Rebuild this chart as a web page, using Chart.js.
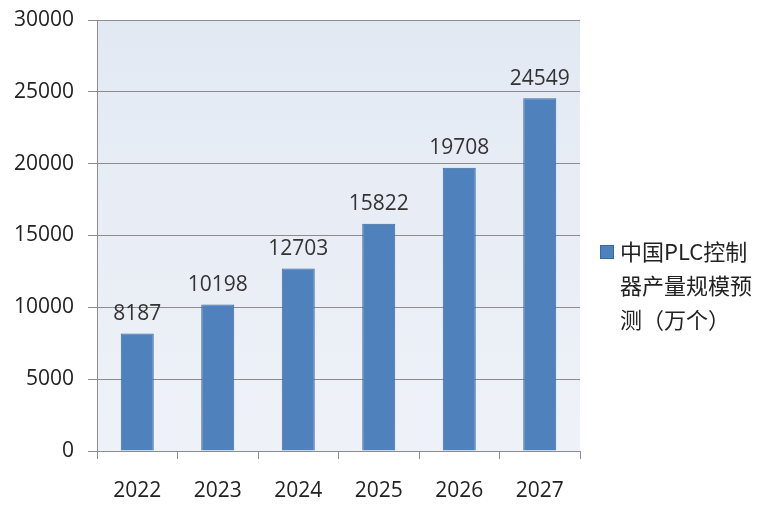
<!DOCTYPE html>
<html>
<head>
<meta charset="utf-8">
<script src="https://cdn.jsdelivr.net/npm/chart.js@4"></script>
<style>
  html, body { margin: 0; padding: 0; background: #fff; }
  #wrap { position: relative; width: 768px; height: 517px; }
  #legend {
    position: absolute; left: 598px; top: 233px; width: 170px;
    font-family: "Noto Sans CJK SC", "Noto Sans", sans-serif;
    font-size: 22px; line-height: 34px; color: #222;
  }
  #legend .box {
    position: absolute; left: 2px; top: 12px; width: 12px; height: 12px;
    background: #4F81BD; border: 1px solid #3A6A9E;
  }
  #legend .txt { margin-left: 22px; }
</style>
</head>
<body>
<div id="wrap">
  <canvas id="chart" width="768" height="517"></canvas>
  <div id="legend"><span class="box"></span><div class="txt">中国PLC控制<br>器产量规模预<br>测（万个）</div></div>
</div>
<script>
// chart data
var years = ['2022', '2023', '2024', '2025', '2026', '2027'];
var output = [8187, 10198, 12703, 15822, 19708, 24549];
var seriesName = '中国PLC控制器产量规模预测（万个）';

var fontFamily = '"Open Sans", "Noto Sans", sans-serif';
var tickFont = { family: fontFamily, size: 21 };

// plot area background
var plotBackground = {
    id: 'plotBackground',
    beforeDraw: function(chart) {
        var ctx = chart.ctx, a = chart.chartArea;
        var g = ctx.createLinearGradient(0, a.top, 0, a.bottom);
        g.addColorStop(0, '#E3E9F3');
        g.addColorStop(1, '#EEF2F8');
        ctx.save();
        ctx.fillStyle = g;
        ctx.fillRect(a.left, a.top, a.right - a.left, a.bottom - a.top);
        ctx.restore();
    }
};

// value labels above bars
var valueLabels = {
    id: 'valueLabels',
    afterDatasetsDraw: function(chart) {
        var ctx = chart.ctx;
        var meta = chart.getDatasetMeta(0);
        ctx.save();
        ctx.font = '21px ' + fontFamily;
        ctx.fillStyle = '#333';
        ctx.textAlign = 'center';
        ctx.textBaseline = 'bottom';
        meta.data.forEach(function(bar, i) {
            ctx.fillText(String(output[i]), bar.x, bar.y - 9);
        });
        ctx.restore();
    }
};

new Chart(document.getElementById('chart'), {
    type: 'bar',
    data: {
        labels: years,
        datasets: [{
            label: seriesName,
            data: output,
            backgroundColor: '#4F81BD',
            borderColor: '#3A6A9E',
            borderWidth: 1,
            categoryPercentage: 1,
            barPercentage: 0.41
        }]
    },
    options: {
        responsive: false,
        animation: false,
        layout: { padding: { top: 20, right: 188, left: 0, bottom: 0 } },
        plugins: {
            legend: { display: false },
            tooltip: { enabled: false }
        },
        scales: {
            x: {
                grid: { drawOnChartArea: false, color: '#8C8C8C', tickLength: 8 },
                border: { color: '#8C8C8C' },
                ticks: { font: tickFont, color: '#222', padding: 19 },
                afterFit: function(scale) { scale.height = 66; }
            },
            y: {
                min: 0,
                max: 30000,
                grid: { color: '#8C8C8C', tickLength: 9 },
                border: { color: '#8C8C8C' },
                ticks: {
                    stepSize: 5000, font: tickFont, color: '#222', padding: 14,
                    callback: function(v) { return String(v); }
                },
                afterFit: function(scale) {
                    scale.width = 97;
                    scale.paddingTop = 0;
                    scale.paddingBottom = 0;
                }
            }
        }
    },
    plugins: [plotBackground, valueLabels]
});
</script>
</body>
</html>
